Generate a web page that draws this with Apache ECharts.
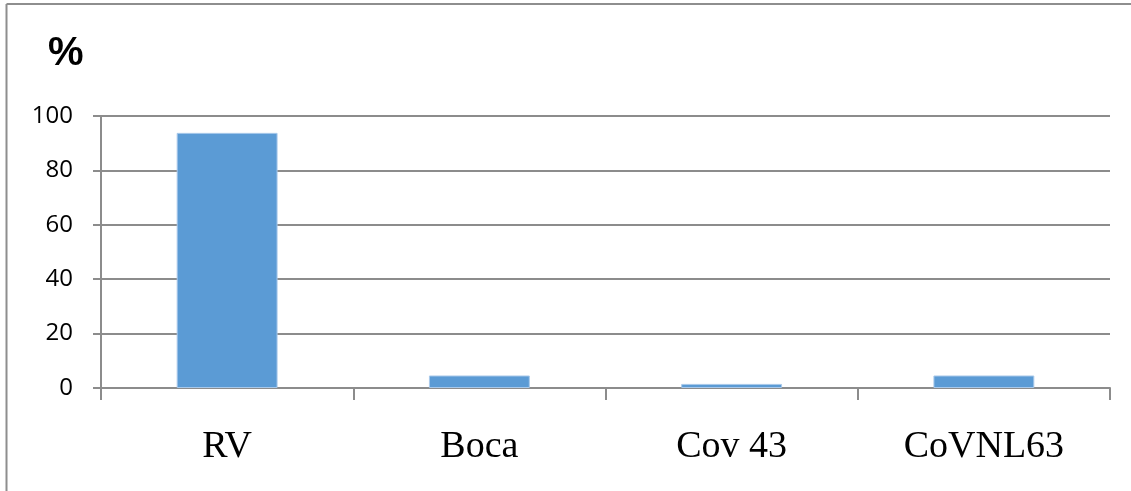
<!DOCTYPE html>
<html><head><meta charset="utf-8">
<script src="https://cdn.jsdelivr.net/npm/echarts@6/dist/echarts.min.js"></script>
<style>html,body{margin:0;padding:0;background:#fff}#c{width:1131px;height:491px}</style>
</head><body><div id="c"></div>
<script>
const categories = ["RV", "Boca", "Cov 43", "CoVNL63"];
const values = [93.8, 4.6, 1.5, 4.6];
const yTicks = [0, 20, 40, 60, 80, 100];
const unitLabel = "%";

const chart = echarts.init(document.getElementById('c'));
chart.setOption({
  animation: false,
  backgroundColor: '#fff',
  grid: {left: 101, right: 21, top: 116, bottom: 103},
  graphic: [
    {type: 'line', shape: {x1: 6.5, y1: 4, x2: 1131, y2: 4}, style: {stroke: '#8e8e8e', lineWidth: 2}},
    {type: 'line', shape: {x1: 6.5, y1: 4, x2: 6.5, y2: 491}, style: {stroke: '#8e8e8e', lineWidth: 2}},
    {type: 'text', left: 48, top: 34, style: {text: unitLabel, font: 'bold 40px "Liberation Sans", Arial, sans-serif', fill: '#000'}}
  ],
  xAxis: {
    type: 'category', data: categories,
    axisLine: {lineStyle: {color: '#8c8c8c', width: 2}},
    axisTick: {show: true, length: 12, lineStyle: {color: '#8c8c8c', width: 2}},
    axisLabel: {margin: 40, fontSize: 38, color: '#000', fontFamily: '"Liberation Serif", "Times New Roman", serif'}
  },
  yAxis: {
    type: 'value', min: yTicks[0], max: yTicks[yTicks.length - 1], interval: 20,
    axisLine: {show: true, lineStyle: {color: '#8c8c8c', width: 2}},
    axisTick: {show: true, length: 8, lineStyle: {color: '#8c8c8c', width: 2}},
    splitLine: {lineStyle: {color: '#8c8c8c', width: 2}},
    axisLabel: {margin: 28, fontSize: 24, color: '#000', fontFamily: '"Open Sans", "Liberation Sans", sans-serif'}
  },
  series: [{
    type: 'bar', data: values, barWidth: '40%',
    itemStyle: {color: '#5b9bd5', borderColor: '#a9c9ea', borderWidth: 1}
  }]
});
</script></body></html>
